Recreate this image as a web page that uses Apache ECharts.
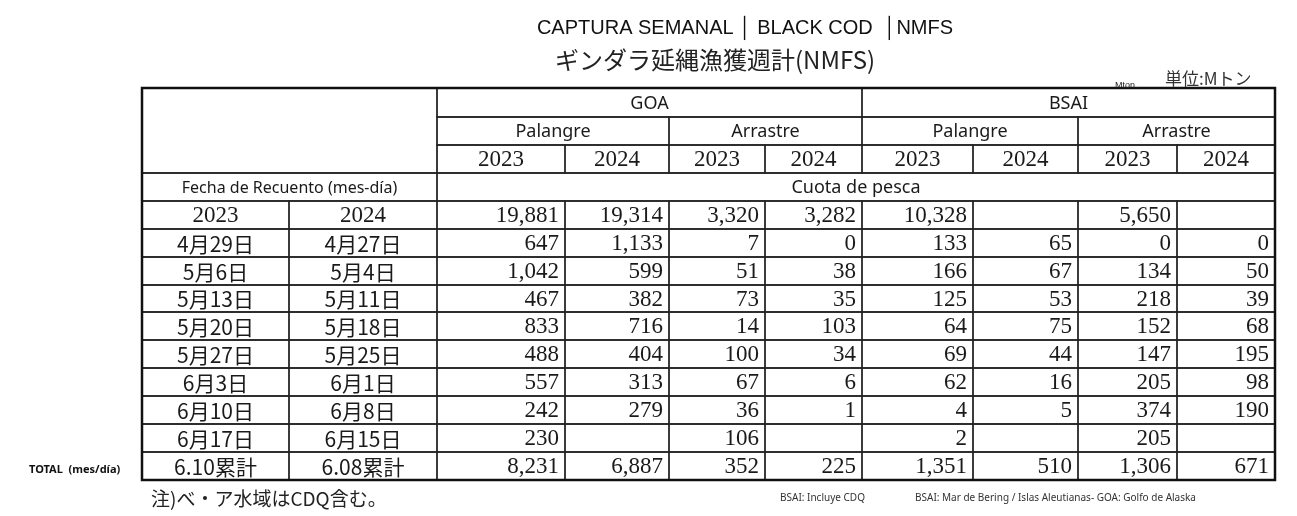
<!DOCTYPE html>
<html><head><meta charset="utf-8">
<script src="https://cdn.jsdelivr.net/npm/echarts@6/dist/echarts.min.js"></script>
<style>html,body{margin:0;background:#fff}#main{width:1297px;height:516px}</style>
</head><body><div id="main"></div>
<script>
var myChart = echarts.init(document.getElementById('main'));

// table data
var dates2023 = ['4月29日', '5月6日', '5月13日', '5月20日', '5月27日', '6月3日', '6月10日', '6月17日'];
var dates2024 = ['4月27日', '5月4日', '5月11日', '5月18日', '5月25日', '6月1日', '6月8日', '6月15日'];
var groups = ['GOA', 'BSAI'];
var gears = ['Palangre', 'Arrastre', 'Palangre', 'Arrastre'];
var years = ['2023', '2024', '2023', '2024', '2023', '2024', '2023', '2024'];
var quota = ['19,881', '19,314', '3,320', '3,282', '10,328', '', '5,650', ''];
var goaPal2023 = ['647', '1,042', '467', '833', '488', '557', '242', '230'];
var goaPal2024 = ['1,133', '599', '382', '716', '404', '313', '279', ''];
var goaArr2023 = ['7', '51', '73', '14', '100', '67', '36', '106'];
var goaArr2024 = ['0', '38', '35', '103', '34', '6', '1', ''];
var bsaiPal2023 = ['133', '166', '125', '64', '69', '62', '4', '2'];
var bsaiPal2024 = ['65', '67', '53', '75', '44', '16', '5', ''];
var bsaiArr2023 = ['0', '134', '218', '152', '147', '205', '374', '205'];
var bsaiArr2024 = ['0', '50', '39', '68', '195', '98', '190', ''];
var totalLabels = ['6.10累計', '6.08累計'];
var totals = ['8,231', '6,887', '352', '225', '1,351', '510', '1,306', '671'];

// table layout (grid edges)
var colEdges = [142, 289, 437, 565, 669, 765, 862, 973, 1078, 1177, 1275];
var rowEdges = [88, 117, 145, 173, 201, 229, 257, 285, 312, 340, 368, 396, 424, 452, 480];

var SANS = '"Liberation Sans Narrow", "Noto Sans", sans-serif';
var NUM = '"Liberation Serif", "DejaVu Serif", serif';
var JP = '"Noto Sans CJK JP", sans-serif';

var cells = [];
function cell(c0, c1, r0, r1, text, align, font, size) {
  cells.push({ c0: c0, c1: c1, r0: r0, r1: r1, text: text, align: align || 'center', font: font || SANS, size: size || 18 });
}
cell(0, 2, 0, 3, '');
groups.forEach(function (g, i) { cell(2 + i * 4, 6 + i * 4, 0, 1, g); });
gears.forEach(function (g, i) { cell(2 + i * 2, 4 + i * 2, 1, 2, g); });
years.forEach(function (y, i) { cell(2 + i, 3 + i, 2, 3, y, 'center', NUM, 23); });
cell(0, 2, 3, 4, 'Fecha de Recuento (mes-día)', 'center', SANS, 16);
cell(2, 10, 3, 4, 'Cuota de pesca');
cell(0, 1, 4, 5, '2023', 'center', NUM, 23);
cell(1, 2, 4, 5, '2024', 'center', NUM, 23);
quota.forEach(function (q, i) { cell(2 + i, 3 + i, 4, 5, q, 'right', NUM, 23); });
var cols = [goaPal2023, goaPal2024, goaArr2023, goaArr2024, bsaiPal2023, bsaiPal2024, bsaiArr2023, bsaiArr2024];
dates2023.forEach(function (d, r) {
  cell(0, 1, 5 + r, 6 + r, d, 'center', JP, 21);
  cell(1, 2, 5 + r, 6 + r, dates2024[r], 'center', JP, 21);
  cols.forEach(function (col, i) { cell(2 + i, 3 + i, 5 + r, 6 + r, col[r], 'right', NUM, 23); });
});
cell(0, 1, 13, 14, totalLabels[0], 'center', JP, 21);
cell(1, 2, 13, 14, totalLabels[1], 'center', JP, 21);
totals.forEach(function (t, i) { cell(2 + i, 3 + i, 13, 14, t, 'right', NUM, 23); });

var option = {
  animation: false,
  title: [
    { text: 'CAPTURA SEMANAL │ BLACK COD  │NMFS', left: 740, top: 13, textAlign: 'center',
      textStyle: { fontSize: 20, fontWeight: 'normal', fontFamily: '"Liberation Sans", sans-serif', color: '#111' } },
    { text: 'ギンダラ延縄漁獲週計(NMFS)', left: 710, top: 43, textAlign: 'center',
      textStyle: { fontSize: 24, fontWeight: 'normal', fontFamily: JP, color: '#222' } },
    { text: 'Mton.', left: 1110, top: 76, textStyle: { fontSize: 9, fontWeight: 'normal', color: '#222' } },
    { text: '単位:Mトン', left: 1160, top: 65, textStyle: { fontSize: 17, fontWeight: 'normal', fontFamily: JP, color: '#333' } },
    { text: 'TOTAL  (mes/día)', left: 24, top: 459, textStyle: { fontSize: 11, fontWeight: 'bold', fontFamily: SANS, color: '#111' } },
    { text: '注)べ・ア水域はCDQ含む。', left: 146, top: 484, textStyle: { fontSize: 19, fontWeight: 'normal', fontFamily: JP, color: '#222' } },
    { text: 'BSAI: Incluye CDQ', left: 775, top: 488, textStyle: { fontSize: 10, fontWeight: 'normal', fontFamily: SANS, color: '#333' } },
    { text: 'BSAI: Mar de Bering / Islas Aleutianas- GOA: Golfo de Alaska', left: 910, top: 488, textStyle: { fontSize: 10, fontWeight: 'normal', fontFamily: SANS, color: '#333' } }
  ],
  grid: { left: 0, right: 0, top: 0, bottom: 0 },
  xAxis: { type: 'value', min: 0, max: 1297, show: false },
  yAxis: { type: 'value', min: 0, max: 516, inverse: true, show: false },
  series: [{
    type: 'custom',
    silent: true,
    data: cells.map(function (c) { return [colEdges[c.c0], rowEdges[c.r0], colEdges[c.c1], rowEdges[c.r1]]; }),
    renderItem: function (params, api) {
      var c = cells[params.dataIndex];
      var p0 = api.coord([api.value(0), api.value(1)]);
      var p1 = api.coord([api.value(2), api.value(3)]);
      var w = p1[0] - p0[0], h = p1[1] - p0[1];
      var tx = c.align === 'right' ? p1[0] - 6 : p0[0] + w / 2;
      return {
        type: 'group',
        children: [
          { type: 'rect', shape: { x: p0[0], y: p0[1], width: w, height: h },
            style: { fill: 'none', stroke: '#222', lineWidth: 1.3 } },
          { type: 'text', style: { x: tx, y: p0[1] + h / 2 + 1, text: c.text, textAlign: c.align,
            textVerticalAlign: 'middle', fontSize: c.size, fontFamily: c.font, fill: '#1a1a1a' } }
        ]
      };
    }
  }, {
    type: 'custom',
    silent: true,
    data: [[colEdges[0], rowEdges[0], colEdges[10], rowEdges[14]]],
    renderItem: function (params, api) {
      var p0 = api.coord([api.value(0), api.value(1)]);
      var p1 = api.coord([api.value(2), api.value(3)]);
      return { type: 'rect', shape: { x: p0[0], y: p0[1], width: p1[0] - p0[0], height: p1[1] - p0[1] },
        style: { fill: 'none', stroke: '#111', lineWidth: 2.5 } };
    }
  }]
};

myChart.setOption(option);
</script>
</body></html>
